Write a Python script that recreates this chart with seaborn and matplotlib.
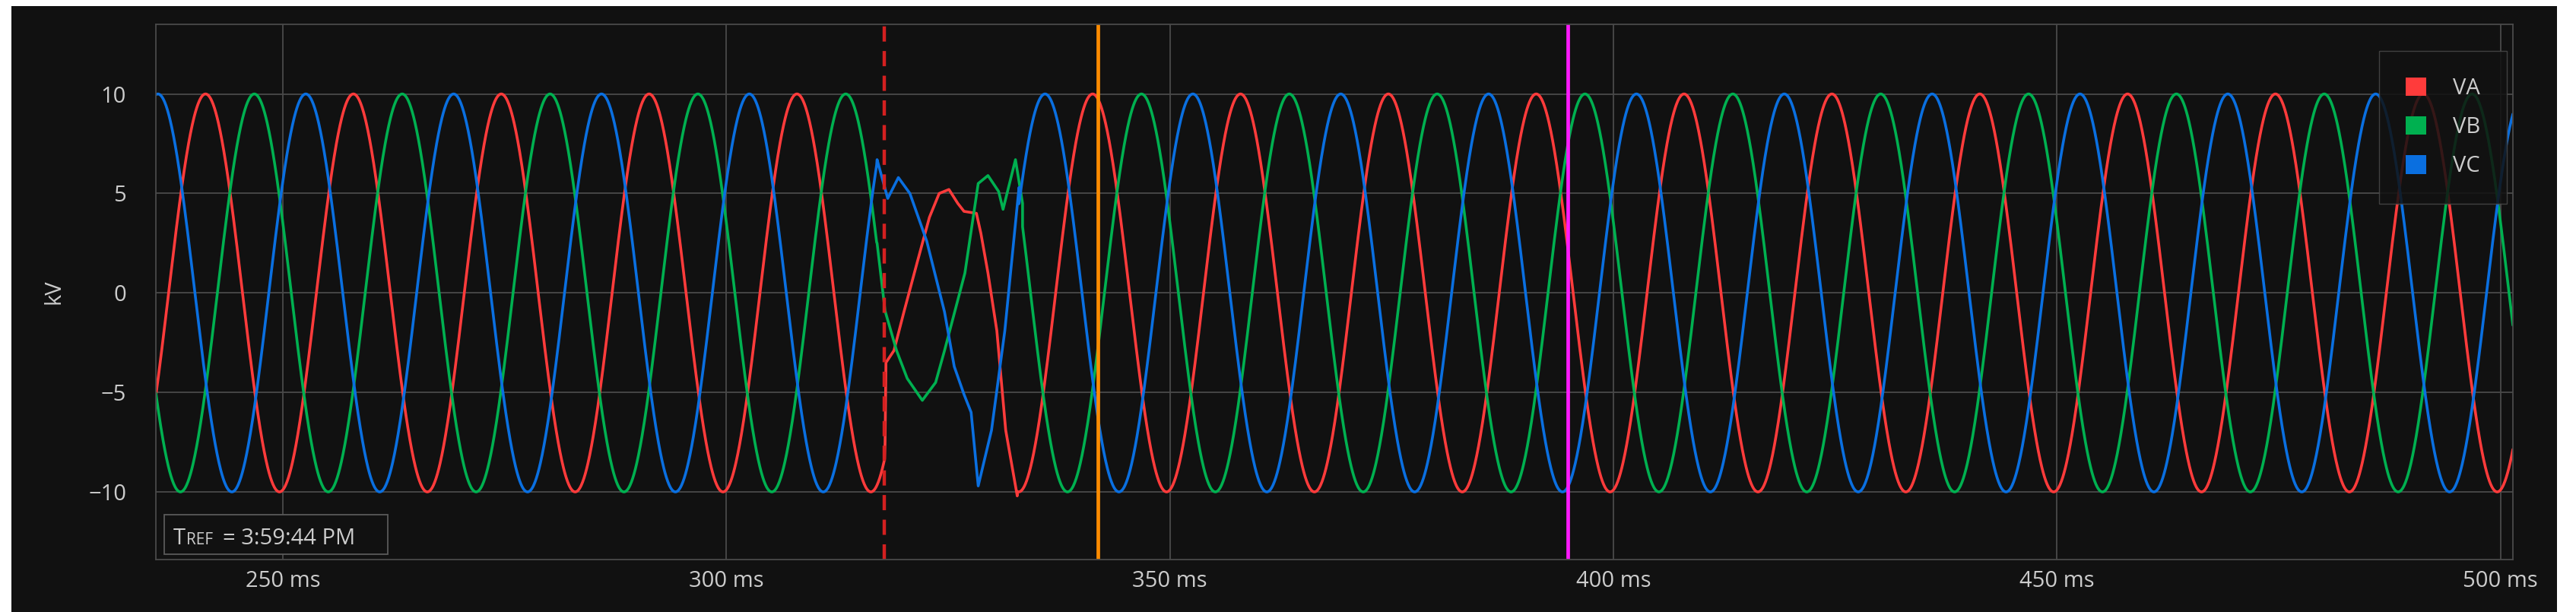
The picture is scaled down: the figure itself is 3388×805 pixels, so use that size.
import numpy as np
import pandas as pd
import matplotlib
matplotlib.use('Agg')
import matplotlib.pyplot as plt
from matplotlib.patches import Patch, Rectangle
import seaborn as sns

# steady-state phasors: peak amplitude (kV), 60 Hz, time of one peak (ms)
phases = ['VA', 'VB', 'VC']
colors = ['#ff3b3b', '#00b050', '#0a6fe0']
amplitude_kv = [10.0, 10.0, 10.0]
freq_hz = 60.0
peak_ms = [241.3, 246.8, 252.6]

# disturbed stretch, points (ms, kV)
fault_t = {
    'VA': [317.9, 318.0, 318.9, 320.0, 321.5, 322.9, 324.0, 325.1, 326.1, 326.8,
           328.2, 328.7, 329.5, 330.5, 331.5, 332.8],
    'VB': [317.0, 317.9, 319.2, 320.4, 322.1, 323.6, 324.6, 326.9, 328.4, 329.5,
           330.7, 331.2, 332.6, 333.4],
    'VC': [317.0, 318.2, 319.4, 320.7, 322.6, 324.6, 325.7, 326.8, 327.6, 328.4,
           329.9, 331.4, 333.0],
}
fault_v = {
    'VA': [-7.5, -3.5, -2.9, -1.0, 1.5, 3.8, 5.0, 5.2, 4.5, 4.1,
           4.0, 3.0, 1.0, -1.9, -6.9, -10.2],
    'VB': [2.5, -0.9, -2.9, -4.3, -5.4, -4.5, -2.9, 1.0, 5.5, 5.9,
           5.1, 4.2, 6.7, 4.5],
    'VC': [6.7, 4.75, 5.8, 5.0, 2.6, -0.95, -3.7, -5.1, -6.0, -9.7,
           -6.9, -1.9, 5.3],
}

trigger_ms = 317.8
cursor1_ms = 341.9
cursor2_ms = 394.9
x_ticks = [250, 300, 350, 400, 450, 500]
y_ticks = [-10, -5, 0, 5, 10]
t_ref = '= 3:59:44 PM'

t = np.arange(235.7, 501.5, 0.05)
frames = []
for name, amp, pk in zip(phases, amplitude_kv, peak_ms):
    ft = np.array(fault_t[name])
    fv = np.array(fault_v[name])
    before = t[t < ft[0]]
    after = t[t > ft[-1]]
    tt = np.concatenate([before, ft, after])
    steady = lambda x: amp * np.cos(2 * np.pi * freq_hz * (x - pk) / 1000.0)
    vv = np.concatenate([steady(before), fv, steady(after)])
    frames.append(pd.DataFrame({'t': tt, 'v': vv, 'phase': name}))
df = pd.concat(frames, ignore_index=True)

sns.set_theme(style='dark')
plt.rcParams['font.family'] = ['Open Sans', 'DejaVu Sans']

W, H = 3388, 805
fig = plt.figure(figsize=(W / 100, H / 100), dpi=100, facecolor='white')
fig.patches.append(Rectangle((15 / W, 0), (3363 - 15) / W, (H - 8) / H,
                             transform=fig.transFigure, facecolor='#111111',
                             edgecolor='none', zorder=-5))
ax = fig.add_axes([205 / W, 1 - 736 / H, (3305 - 205) / W, (736 - 32) / H])
ax.set_zorder(1)
ax.set_facecolor('#111111')

for name, c in zip(phases, colors):
    sns.lineplot(data=df[df['phase'] == name], x='t', y='v', ax=ax, color=c,
                 lw=2.6, sort=False, estimator=None, legend=False)

ax.axvline(trigger_ms, color='#d42020', lw=3.2, ls=(0, (4.5, 2.8)))
ax.axvline(cursor1_ms, color='#ff8c00', lw=3.4)
ax.axvline(cursor2_ms, color='#ff1aff', lw=3.4)

ax.set_xlim(235.7, 501.4)
ax.set_ylim(-13.4, 13.5)
ax.set_xticks(x_ticks)
ax.set_xticklabels([f'{v} ms' for v in x_ticks])
ax.set_yticks(y_ticks)
ax.grid(True, color='#4a4a4a', lw=1.3)
ax.tick_params(colors='#cccccc', labelsize=21, length=0, pad=10)
ax.tick_params(axis='y', pad=28)
for s in ax.spines.values():
    s.set_color('#4a4a4a')
    s.set_linewidth(1.3)
ax.set_xlabel('')
ax.set_ylabel('kV', color='#cccccc', fontsize=21, labelpad=22)

handles = [Patch(facecolor=c, edgecolor='none', label=n) for n, c in zip(phases, colors)]
leg = ax.legend(handles=handles, loc='upper right', bbox_to_anchor=(3288 / W, 1 - 76 / H),
                bbox_transform=fig.transFigure, fontsize=21, frameon=True,
                handlelength=0.9, handleheight=0.9, handletextpad=1.2,
                labelspacing=0.75, borderpad=0.9, borderaxespad=0)
leg.get_frame().set_facecolor('#111111')
leg.get_frame().set_alpha(0.85)
leg.get_frame().set_edgecolor('#4a4a4a')
leg.get_frame().set_boxstyle('square')
for txt in leg.get_texts():
    txt.set_color('#cccccc')

# T_REF box in the lower left corner
fig.patches.append(Rectangle((216 / W, 1 - 729 / H), (510 - 216) / W, 52 / H,
                             transform=fig.transFigure, facecolor='#111111',
                             edgecolor='#5a5a5a', lw=1.3, zorder=5))
base = 1 - 716 / H
fig.text(228 / W, base, 'T', color='#cccccc', fontsize=21, va='baseline', zorder=6)
fig.text(245 / W, base, 'REF', color='#cccccc', fontsize=15, va='baseline', zorder=6)
fig.text(293 / W, base, t_ref, color='#cccccc', fontsize=21, va='baseline', zorder=6)

fig.savefig('out.png', dpi=100, facecolor='white')
